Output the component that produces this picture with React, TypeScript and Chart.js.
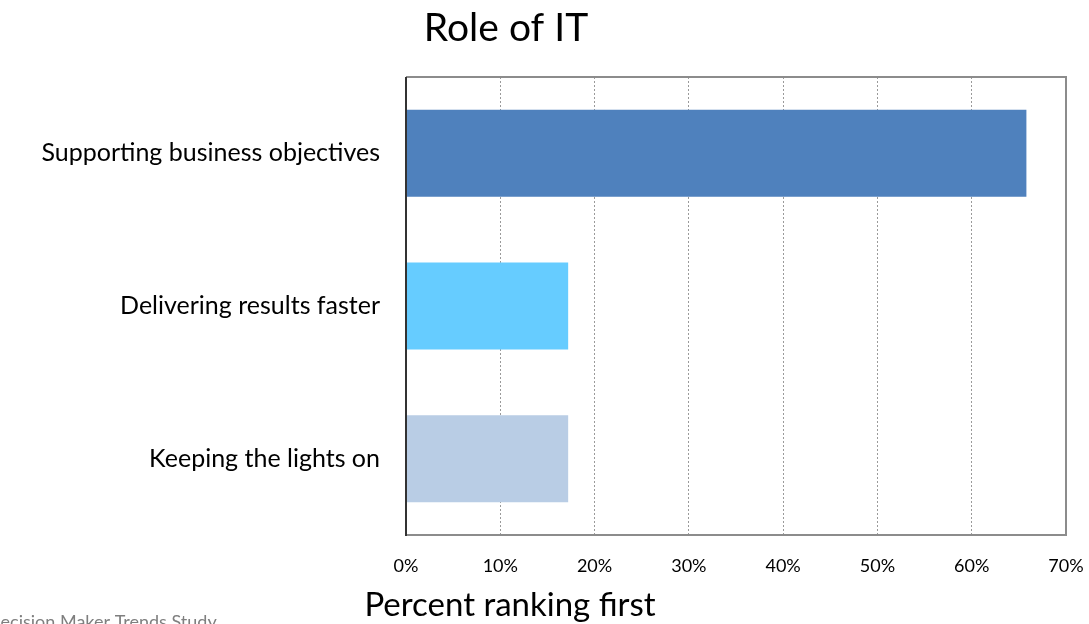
import React, { useEffect, useRef } from "react";
import { Chart, registerables } from "chart.js";

Chart.register(...registerables);

const categories = ["Supporting business objectives", "Delivering results faster", "Keeping the lights on"];
const values = [65.8, 17.2, 17.2];
const barColors = ["#4F81BD", "#66CCFF", "#B9CDE5"];
const titleText = "Role of IT";
const xTitleText = "Percent ranking first";
const footnoteText = "Decision Maker Trends Study";

const FONT = "Lato, 'Open Sans', sans-serif";

const overlayPlugin = {
  id: "overlay",
  beforeDatasetsDraw(chart: any) {
    const { ctx, chartArea } = chart;
    ctx.save();
    ctx.strokeStyle = "#8c8c8c";
    ctx.lineWidth = 2;
    ctx.beginPath();
    ctx.moveTo(chartArea.left, chartArea.top);
    ctx.lineTo(chartArea.right, chartArea.top);
    ctx.lineTo(chartArea.right, chartArea.bottom);
    ctx.lineTo(chartArea.left, chartArea.bottom);
    ctx.stroke();
    ctx.restore();
  },
  afterDraw(chart: any) {
    const { ctx, chartArea } = chart;
    ctx.save();
    ctx.strokeStyle = "#333333";
    ctx.lineWidth = 2;
    ctx.beginPath();
    ctx.moveTo(chartArea.left, chartArea.top);
    ctx.lineTo(chartArea.left, chartArea.bottom + 1);
    ctx.stroke();

    ctx.fillStyle = "#000";
    ctx.textAlign = "center";
    ctx.textBaseline = "middle";
    ctx.font = `39px ${FONT}`;
    ctx.fillText(titleText, 506, 28);
    ctx.font = `33px ${FONT}`;
    ctx.fillText(xTitleText, 510, 605);
    ctx.fillStyle = "#7f7f7f";
    ctx.textAlign = "left";
    ctx.font = `18px ${FONT}`;
    ctx.fillText(footnoteText, -13, 622);
    ctx.restore();
  },
};

export default function App() {
  const ref = useRef<HTMLCanvasElement>(null);
  useEffect(() => {
    const chart = new Chart(ref.current as HTMLCanvasElement, {
      type: "bar",
      data: {
        labels: categories,
        datasets: [
          {
            data: values,
            backgroundColor: barColors,
            borderWidth: 0,
            categoryPercentage: 1,
            barPercentage: 0.57,
          },
        ],
      },
      options: {
        indexAxis: "y",
        animation: false,
        responsive: false,
        maintainAspectRatio: false,
        layout: { padding: { left: 0, right: 23, top: 77, bottom: 0 } },
        plugins: {
          legend: { display: false },
          title: { display: false },
          tooltip: { enabled: false },
        },
        scales: {
          x: {
            min: 0,
            max: 70,
            ticks: {
              stepSize: 10,
              color: "#000",
              font: { family: FONT, size: 18 },
              padding: 20,
              callback: (v: any) => `${v}%`,
            },
            grid: {
              color: "#9a9a9a",
              lineWidth: 1,
              drawTicks: false,
            },
            border: { display: false, dash: [2, 2] },
            afterFit: (s: any) => {
              s.height = 624 - 535;
              s.paddingRight = 0;
              s.paddingLeft = 0;
            },
          },
          y: {
            ticks: {
              color: "#000",
              font: { family: FONT, size: 25 },
              padding: 26,
            },
            grid: { display: false, drawTicks: false },
            border: { display: false },
            afterFit: (s: any) => {
              s.width = 406;
            },
          },
        },
      },
      plugins: [overlayPlugin],
    } as any);
    return () => chart.destroy();
  }, []);
  return (
    <div style={{ position: "fixed", left: 0, top: 0, width: 1089, height: 624, background: "#fff" }}>
      <canvas ref={ref} width={1089} height={624} style={{ width: 1089, height: 624 }} />
    </div>
  );
}
